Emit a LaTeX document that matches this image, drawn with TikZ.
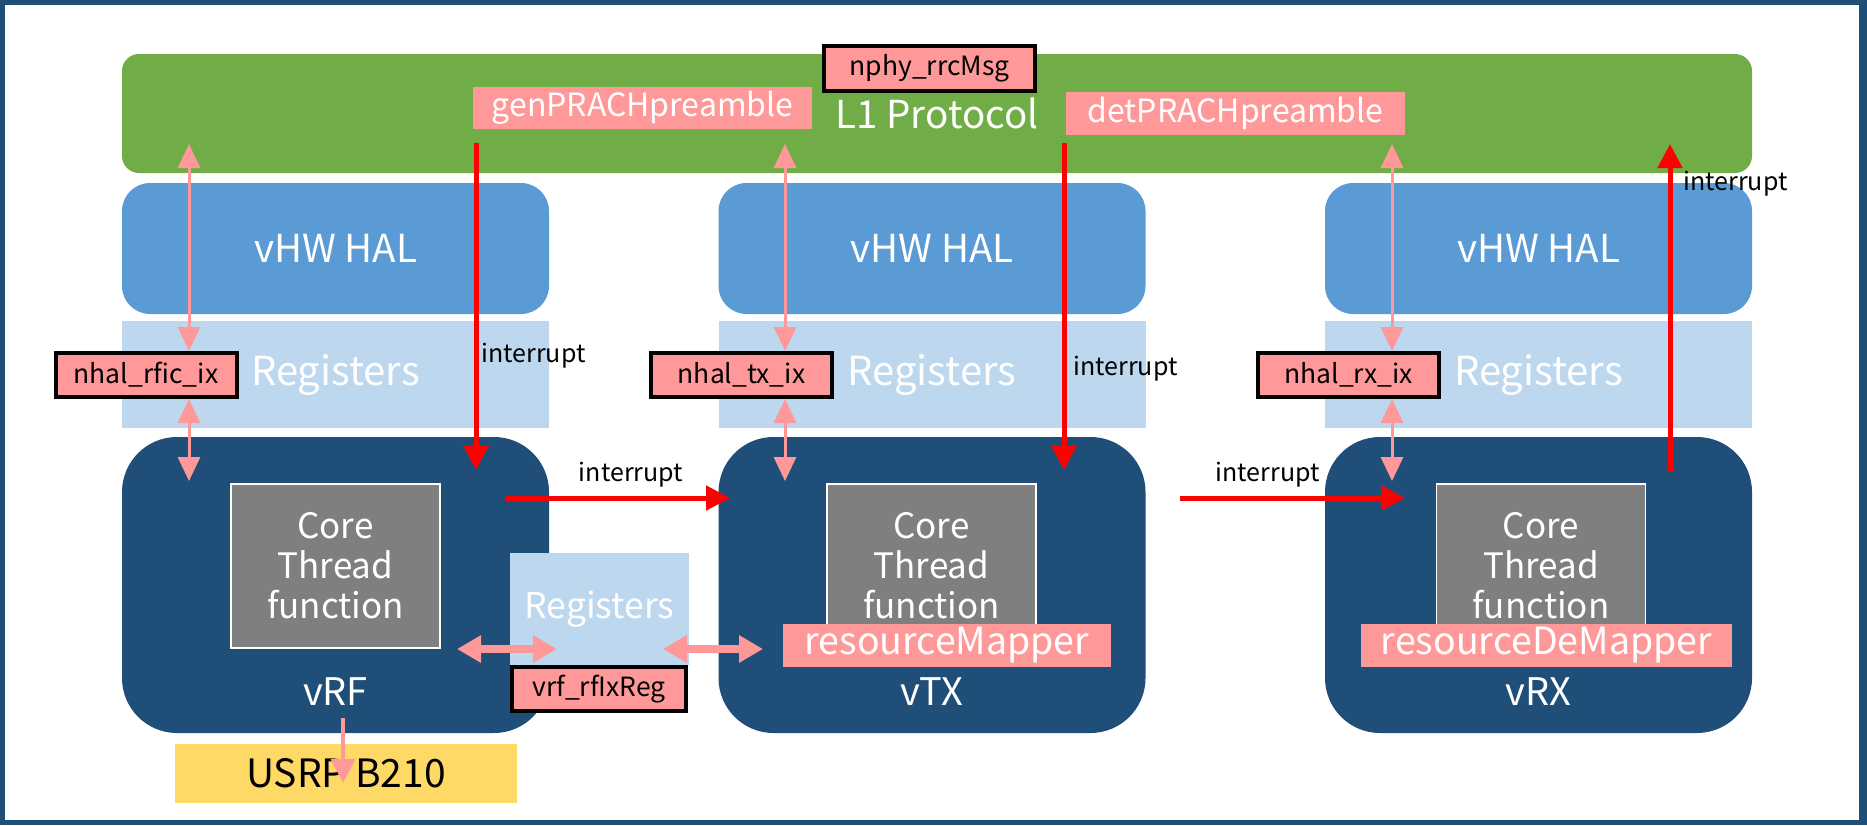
\documentclass[tikz,border=0pt]{standalone}
\usepackage{fontspec}
\setmainfont{Noto Sans CJK KR}
\usepackage{tikz}
\usetikzlibrary{calc,positioning,arrows.meta}
\definecolor{frame}{HTML}{1F4E79}
\definecolor{lgreen}{HTML}{70AD47}
\definecolor{halblue}{HTML}{5B9BD5}
\definecolor{regblue}{HTML}{BDD7EE}
\definecolor{coregray}{HTML}{7F7F7F}
\definecolor{apipink}{HTML}{FF9999}
\definecolor{usrpyellow}{HTML}{FFD966}

\begin{document}
\begin{tikzpicture}[x=1pt,y=1pt,
  panel/.style={inner sep=0pt,text=white,font=\fontsize{40}{44}\selectfont},
  tag/.style={inner sep=0pt,fill=apipink,draw=black,line width=4pt,font=\fontsize{26.5}{30}\selectfont},
  fn/.style={inner sep=0pt,fill=apipink,text=white,font=\fontsize{32}{36}\selectfont},
  core/.style={panel,fill=coregray,draw=white,line width=1.5pt,minimum width=209,minimum height=164,align=center,font=\fontsize{35}{40}\selectfont},
  devlbl/.style={text=white,font=\fontsize{38}{42}\selectfont},
  apiarrow/.style={draw=apipink,line width=3pt,{Triangle[length=24pt,width=22pt]}-{Triangle[length=24pt,width=22pt]}},
  bigapi/.style={draw=apipink,line width=8pt,{Triangle[length=24pt,width=26pt]}-{Triangle[length=24pt,width=26pt]}},
  usbarrow/.style={draw=apipink,line width=4pt,-{Triangle[length=24pt,width=24pt]}},
  intarrow/.style={draw=red,line width=5pt,-{Triangle[length=24pt,width=24pt]}},
  intlabel/.style={text=black,font=\fontsize{25}{28}\selectfont,inner sep=3pt}]
\fill[frame] (0,0) rectangle (1867,-825);
\fill[white] (5,-5) rectangle (1859,-820);

% L1 layer
\node (l1) [panel,fill=lgreen,minimum width=1630,minimum height=119,rounded corners=17,font=\fontsize{38.5}{42}\selectfont] at (937,-113.5) {L1 Protocol};
\node (rrc) [tag,minimum width=211,minimum height=45] at (929.5,-68.5) {nphy\_rrcMsg};
\node (gen) [fn,minimum width=339,minimum height=42] at (642.5,-108) {genPRACHpreamble};
\node (det) [fn,minimum width=339,minimum height=43] at (1235.5,-113.5) {detPRACHpreamble};

% vHW HAL and registers
\node (halrf) [panel,fill=halblue,minimum width=427,minimum height=131,rounded corners=28,font=\fontsize{38.5}{42}\selectfont] at (335.5,-248.5) {vHW HAL};
\node (haltx) [panel,fill=halblue,minimum width=427,minimum height=131,rounded corners=28,font=\fontsize{38.5}{42}\selectfont] at (932,-248.5) {vHW HAL};
\node (halrx) [panel,fill=halblue,minimum width=427,minimum height=131,rounded corners=28,font=\fontsize{38.5}{42}\selectfont] at (1538.5,-248.5) {vHW HAL};
\node (regrf) [panel,fill=regblue,minimum width=427,minimum height=107] at (335.5,-374.5) {Registers};
\node (regtx) [panel,fill=regblue,minimum width=427,minimum height=107] at (932,-374.5) {Registers};
\node (regrx) [panel,fill=regblue,minimum width=427,minimum height=107] at (1538.5,-374.5) {Registers};
\node (nhalrf) [tag,minimum width=181,minimum height=44] at (146,-375) {nhal\_rfic\_ix};
\node (nhaltx) [tag,minimum width=181,minimum height=44] at (741.5,-375) {nhal\_tx\_ix};
\node (nhalrx) [tag,minimum width=181,minimum height=44] at (1348.5,-375) {nhal\_rx\_ix};

% virtual devices
\node (rf) [panel,fill=frame,minimum width=427,minimum height=296,rounded corners=55] at (335.5,-585) {};
\node (tx) [panel,fill=frame,minimum width=427,minimum height=296,rounded corners=55] at (932,-585) {};
\node (rx) [panel,fill=frame,minimum width=427,minimum height=296,rounded corners=55] at (1538.5,-585) {};
\node (corerf) [core] at (335.5,-566) {Core\\Thread\\function};
\node (coretx) [core] at (931.5,-566) {Core\\Thread\\function};
\node (corerx) [core] at (1541,-566) {Core\\Thread\\function};
\node (rflbl) [devlbl] at (335.5,-692) {vRF};
\node (txlbl) [devlbl] at (932,-692) {vTX};
\node (rxlbl) [devlbl] at (1538.5,-692) {vRX};
\node (mapper) [fn,minimum width=328,minimum height=43,font=\fontsize{37.5}{40}\selectfont] at (947,-645.5) {resourceMapper};
\node (demapper) [fn,minimum width=371,minimum height=43,font=\fontsize{37.5}{40}\selectfont] at (1546.5,-645.5) {resourceDeMapper};
\node (shreg) [panel,fill=regblue,minimum width=179,minimum height=112,font=\fontsize{35.5}{38}\selectfont] at (599.5,-609) {Registers};
\node (rfixreg) [tag,minimum width=174,minimum height=44] at (599,-689) {vrf\_rfIxReg};
\node (usrp) [inner sep=0pt,fill=usrpyellow,minimum width=342,minimum height=59,font=\fontsize{39}{42}\selectfont] at (346,-773.5) {USRP B210};

% API arrows
\coordinate (rfup) at (189,-144);
\coordinate (txup) at (785,-144);
\coordinate (rxup) at (1392,-144);
\coordinate (rfdn) at (189,-481);
\coordinate (txdn) at (785,-481);
\coordinate (rxdn) at (1392,-481);
\draw[apiarrow] (rfup) -- (rfup |- nhalrf.north);
\draw[apiarrow] (rfup |- nhalrf.south) -- (rfdn);
\draw[apiarrow] (txup) -- (txup |- nhaltx.north);
\draw[apiarrow] (txup |- nhaltx.south) -- (txdn);
\draw[apiarrow] (rxup) -- (rxup |- nhalrx.north);
\draw[apiarrow] (rxup |- nhalrx.south) -- (rxdn);
\coordinate (rfreg) at (457,-649);
\coordinate (regin) at (557,-649);
\coordinate (regout) at (663,-649);
\coordinate (txreg) at (763,-649);
\draw[bigapi] (rfreg) -- (regin);
\draw[bigapi] (regout) -- (txreg);
\coordinate (rfusb) at (343,-718);
\coordinate (usbin) at (343,-783);
\draw[usbarrow] (rfusb) -- (usbin);

% interrupts
\coordinate (genint) at (476,-143);
\coordinate (rfint) at (476,-470);
\coordinate (detint) at (1064,-143);
\coordinate (txint) at (1064,-470);
\coordinate (rxint) at (1670,-471);
\coordinate (l1int) at (1670,-144);
\coordinate (rfout) at (505,-498);
\coordinate (txin) at (730,-498);
\coordinate (txout) at (1180,-498);
\coordinate (rxin) at (1405,-498);
\draw[intarrow] (genint) -- node[intlabel,right,pos=0.65] {interrupt} (rfint);
\draw[intarrow] (detint) -- node[intlabel,right,pos=0.69,xshift=4pt] {interrupt} (txint);
\draw[intarrow] (rxint) -- node[intlabel,right,pos=0.88,xshift=8pt] {interrupt} (l1int);
\draw[intarrow] (rfout) -- node[intlabel,above,pos=0.56,yshift=5pt] {interrupt} (txin);
\draw[intarrow] (txout) -- node[intlabel,above,pos=0.39,yshift=5pt] {interrupt} (rxin);
\end{tikzpicture}
\end{document}
